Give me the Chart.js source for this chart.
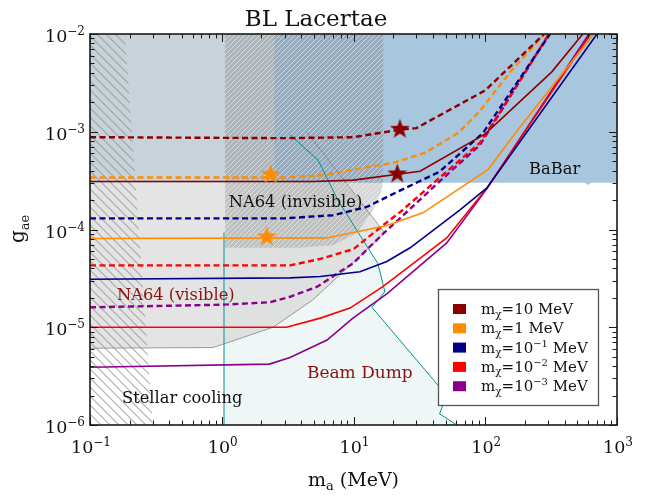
<!DOCTYPE html>
<html>
<head>
<meta charset="utf-8">
<script src="https://cdn.jsdelivr.net/npm/chart.js@4.4.1/dist/chart.umd.min.js"></script>
<style>
  html, body { margin: 0; padding: 0; background: #ffffff; }
  canvas { display: block; }
</style>
</head>
<body>
<canvas id="c" width="655" height="495"></canvas>
<script>
// ---------------- data: axion mass m_a (MeV) vs coupling g_ae ----------------
const xTickValues = [0.1, 1, 10, 100, 1000];
const xTickExponents = ['\u22121', '0', '1', '2', '3'];
const yTickValues = [1e-6, 1e-5, 1e-4, 1e-3, 1e-2];
const yTickExponents = ['\u22126', '\u22125', '\u22124', '\u22123', '\u22122'];

// dark matter masses m_chi shown in the legend: [mantissa, exponent]
const legendMasses = [['10', ''], ['1', ''], ['10', '\u22121'], ['10', '\u22122'], ['10', '\u22123']];
const seriesColors = ['#8b0000', '#ff8c00', '#00008b', '#ff0000', '#8b008b'];

// m_chi = 10 MeV
const mx10Solid  = [[0.1,3.1e-4],[5,3.1e-4],[10,3.2e-4],[32,3.95e-4],[100,9.5e-4],[320,4.1e-3],[550,1e-2]];
const mx10Dashed = [[0.1,8.8e-4],[3,8.6e-4],[10,8.8e-4],[22.5,1.05e-3],[30,1.09e-3],[100,2.65e-3],[280,1e-2]];
// m_chi = 1 MeV
const mx1Solid  = [[0.1,8.1e-5],[6.3,8.2e-5],[17.9,1.1e-4],[33.6,1.48e-4],[105,4.1e-4],[177,1.05e-3],[665,1e-2]];
const mx1Dashed = [[0.1,3.4e-4],[3,3.4e-4],[6,3.6e-4],[11,4.2e-4],[20,4.8e-4],[35,6.1e-4],[62,9.7e-4],[90,1.6e-3],[160,4.3e-3],[282,1e-2]];
// m_chi = 0.1 MeV
const mx01Solid  = [[0.1,3.1e-5],[3.3,3.2e-5],[5.6,3.3e-5],[11.2,3.7e-5],[17.9,4.7e-5],[26.9,6.5e-5],[64,1.58e-4],[103,2.66e-4],[705,1e-2]];
const mx01Dashed = [[0.1,1.3e-4],[3,1.3e-4],[7,1.4e-4],[12.6,1.7e-4],[22.5,2.5e-4],[45,3.9e-4],[96,9.7e-4],[310,1e-2]];
// m_chi = 0.01 MeV
const mx001Solid  = [[0.1,1.0e-5],[3.1,1.0e-5],[5.6,1.24e-5],[9.4,1.57e-5],[16.7,2.6e-5],[51,8.2e-5],[103,2.66e-4],[630,1e-2]];
const mx001Dashed = [[0.1,4.3e-5],[3.3,4.3e-5],[5.6,5.0e-5],[10,6.3e-5],[16.7,1.1e-4],[22.5,1.5e-4],[91,7.7e-4],[123,1.42e-3],[305,1e-2]];
// m_chi = 0.001 MeV
const mx0001Solid  = [[0.1,3.9e-6],[2.3,4.2e-6],[3.3,4.9e-6],[6.3,7.4e-6],[9.9,1.24e-5],[17.9,2.2e-5],[51,7.3e-5],[103,2.62e-4],[612,1e-2]];
const mx0001Dashed = [[0.1,1.6e-5],[1,1.7e-5],[2.3,1.8e-5],[3.3,2.05e-5],[5.3,2.6e-5],[9.9,4.5e-5],[16.7,9.0e-5],[22.5,1.3e-4],[45,3.1e-4],[91,7.3e-4],[123,1.4e-3],[305,1e-2]];

// benchmark points (stars)
const starsDarkRed = [[22.5,1.06e-3],[21.5,3.7e-4]];
const starsOrange  = [[2.35,3.65e-4],[2.2,8.4e-5]];

// excluded regions
const babarRegion = [[0.1,1e-2],[1000,1e-2],[1000,3.0e-4],[640,3.0e-4],[600,2.85e-4],[570,3.0e-4],[0.1,3.0e-4]];
const na64VisibleRegion = [[0.1,1e-2],[2.5,1e-2],[2.5,3.0e-4],[8.6,3.0e-4],[17.3,9.2e-5],[4.9,1.9e-5],[2.45,1e-5],[0.86,6.2e-6],[0.1,6.1e-6]];
const na64VisibleEdge = [[4.4,1e-3],[17.3,9.2e-5],[4.9,1.9e-5],[2.45,1e-5],[0.86,6.2e-6],[0.1,6.1e-6]];
const na64InvisibleRegion = [[1.06,1e-2],[16.8,1e-2],[16.8,3.3e-4],[16.4,2.5e-4],[14.1,1.58e-4],[10.6,9.2e-5],[7.0,6.9e-5],[3.9,6.5e-5],[1.06,6.5e-5]];
const stellarRegion = [[0.1,1e-2],[0.184,1e-2],[0.30,1e-6],[0.1,1e-6]];
const beamDumpRegion = [[1.04,1e-6],[1.04,9.3e-5],[3.3,9.3e-4],[5.4,5.1e-4],[7.6,2.0e-4],[11.8,7.8e-5],[15.3,4.5e-5],[16.7,2.8e-5],[17.3,2.3e-5],[13.8,1.6e-5],[51,2e-6],[45,1.3e-6],[61,1e-6]];
const beamDumpLeftEdge = [[1.04,1e-6],[1.04,9.3e-5]];
const beamDumpRightEdge = [[3.3,9.3e-4],[5.4,5.1e-4],[7.6,2.0e-4],[11.8,7.8e-5],[15.3,4.5e-5],[16.7,2.8e-5],[17.3,2.3e-5],[13.8,1.6e-5],[51,2e-6],[45,1.3e-6],[61,1e-6]];

// ---------------- styling helpers ----------------
const SERIF = '"DejaVu Serif", "Liberation Serif", serif';
const canvas = document.getElementById('c');
const ctx0 = canvas.getContext('2d');

function hatchPattern(size, bg, lineColor, lw, dir) {
  const t = document.createElement('canvas');
  t.width = t.height = size;
  const g = t.getContext('2d');
  if (bg) { g.fillStyle = bg; g.fillRect(0, 0, size, size); }
  g.strokeStyle = lineColor;
  g.lineWidth = lw;
  g.beginPath();
  if (dir > 0) {           // rising lines  /
    g.moveTo(0, size); g.lineTo(size, 0);
    g.moveTo(-2, 2); g.lineTo(2, -2);
    g.moveTo(size - 2, size + 2); g.lineTo(size + 2, size - 2);
  } else {                 // falling lines \
    g.moveTo(0, 0); g.lineTo(size, size);
    g.moveTo(size - 2, -2); g.lineTo(size + 2, 2);
    g.moveTo(-2, size - 2); g.lineTo(2, size + 2);
  }
  g.stroke();
  return ctx0.createPattern(t, 'repeat');
}

function starImage(color, r) {
  const s = Math.ceil(2 * r + 2);
  const t = document.createElement('canvas');
  t.width = t.height = s;
  const g = t.getContext('2d');
  g.fillStyle = color;
  g.beginPath();
  for (let i = 0; i < 10; i++) {
    const rad = i % 2 === 0 ? r : r * 0.4;
    const ang = -Math.PI / 2 + i * Math.PI / 5;
    const px = s / 2 + rad * Math.cos(ang), py = s / 2 + rad * Math.sin(ang);
    if (i === 0) g.moveTo(px, py); else g.lineTo(px, py);
  }
  g.closePath();
  g.fill();
  return t;
}

const toXY = arr => arr.map(([x, y]) => ({ x, y }));

function curve(data, color, dashed, order) {
  return {
    data: toXY(data), showLine: true, borderColor: color,
    borderWidth: dashed ? 2.4 : 1.6, borderDash: dashed ? [6, 3.5] : [],
    borderCapStyle: 'butt', pointRadius: 0, fill: false, order, clip: 0
  };
}
function region(data, bg, order) {
  return {
    data: toXY(data), showLine: true, borderWidth: 1, borderColor: 'rgba(0,0,0,0)',
    backgroundColor: bg, fill: 'shape', pointRadius: 0, order, clip: 0
  };
}
function edge(data, color, width, order) {
  return {
    data: toXY(data), showLine: true, borderWidth: width, borderColor: color,
    pointRadius: 0, fill: false, order, clip: 0
  };
}
function stars(data, color, order) {
  return {
    data: toXY(data), showLine: false, pointStyle: starImage(color, 10.5),
    pointRadius: 10, order, clip: 0
  };
}

const datasets = [
  region(beamDumpRegion, '#eef6f6', 100),
  region(babarRegion, 'rgb(168,198,222)', 90),
  region(na64VisibleRegion, 'rgba(215,215,215,0.68)', 80),
  edge(na64VisibleEdge, 'rgba(120,120,120,0.9)', 0.8, 79),
  region(na64InvisibleRegion, hatchPattern(5, 'rgba(95,95,95,0.25)', 'rgba(255,255,255,0.5)', 1, 1), 70),
  region(stellarRegion, hatchPattern(9, null, 'rgba(150,150,150,0.75)', 1.2, -1), 60),
  edge(beamDumpLeftEdge, '#009393', 1, 50),
  edge(beamDumpRightEdge, '#009393', 1, 50),
  curve(mx0001Dashed, seriesColors[4], true, 20),
  curve(mx001Dashed, seriesColors[3], true, 19),
  curve(mx01Dashed, seriesColors[2], true, 18),
  curve(mx1Dashed, seriesColors[1], true, 17),
  curve(mx10Dashed, seriesColors[0], true, 16),
  curve(mx0001Solid, seriesColors[4], false, 15),
  curve(mx001Solid, seriesColors[3], false, 14),
  curve(mx01Solid, seriesColors[2], false, 13),
  curve(mx1Solid, seriesColors[1], false, 12),
  curve(mx10Solid, seriesColors[0], false, 11),
  stars(starsOrange, seriesColors[1], 1),
  stars(starsDarkRed, seriesColors[0], 0)
];

// text placed in data coordinates
const notes = [
  { text: 'NA64 (invisible)', at: [1.13, 1.7e-4], color: '#111111', size: 16.3 },
  { text: 'NA64 (visible)', at: [0.16, 1.9e-5], color: '#8b1010', size: 16.3 },
  { text: 'Beam Dump', at: [4.43, 3.03e-6], color: '#8b1010', size: 17 },
  { text: 'Stellar cooling', at: [0.175, 1.68e-6], color: '#111111', size: 16.3 },
  { text: 'BaBar', at: [215, 3.7e-4], color: '#111111', size: 16.3 }
];

function richText(ctx, parts, x, y, align) {
  let w = 0;
  for (const p of parts) { ctx.font = p[1] + 'px ' + SERIF; w += ctx.measureText(p[0]).width; }
  let cx = align === 'right' ? x - w : (align === 'center' ? x - w / 2 : x);
  ctx.textAlign = 'left';
  for (const p of parts) {
    ctx.font = p[1] + 'px ' + SERIF;
    ctx.fillText(p[0], cx, y + (p[2] || 0));
    cx += ctx.measureText(p[0]).width;
  }
  return w;
}

const decor = {
  id: 'decor',
  afterDatasetsDraw(chart) {
    const { ctx, chartArea: a, scales } = chart;
    const X = scales.x, Y = scales.y;
    ctx.save();
    ctx.textBaseline = 'alphabetic';

    // region labels
    for (const n of notes) {
      ctx.fillStyle = n.color;
      richText(ctx, [[n.text, n.size]], X.getPixelForValue(n.at[0]), Y.getPixelForValue(n.at[1]), 'left');
    }

    // frame
    ctx.strokeStyle = '#1a1a1a';
    ctx.lineWidth = 1.6;
    ctx.strokeRect(a.left, a.top, a.right - a.left, a.bottom - a.top);

    // inward ticks on all four sides
    ctx.lineWidth = 1;
    ctx.beginPath();
    const xTicks = [], yTicks = [];
    for (let e = -1; e <= 3; e++) for (let k = 1; k < 10; k++) {
      const v = k * Math.pow(10, e);
      if (v > 1000 * 1.0001) break;
      xTicks.push([v, k === 1]);
    }
    for (let e = -6; e <= -2; e++) for (let k = 1; k < 10; k++) {
      const v = k * Math.pow(10, e);
      if (v > 1e-2 * 1.0001) break;
      yTicks.push([v, k === 1]);
    }
    for (const [v, major] of xTicks) {
      const px = Math.round(X.getPixelForValue(v)) + 0.5;
      const len = major ? 8 : 4.5;
      ctx.moveTo(px, a.bottom); ctx.lineTo(px, a.bottom - len);
      ctx.moveTo(px, a.top); ctx.lineTo(px, a.top + len);
    }
    for (const [v, major] of yTicks) {
      const py = Math.round(Y.getPixelForValue(v)) + 0.5;
      const len = major ? 8 : 4.5;
      ctx.moveTo(a.left, py); ctx.lineTo(a.left + len, py);
      ctx.moveTo(a.right, py); ctx.lineTo(a.right - len, py);
    }
    ctx.stroke();

    // tick labels
    ctx.fillStyle = '#111111';
    xTickValues.forEach((v, i) => {
      richText(ctx, [['10', 17.5], [xTickExponents[i], 12, -6.8]], X.getPixelForValue(v) + 1, a.bottom + 28, 'center');
    });
    yTickValues.forEach((v, i) => {
      richText(ctx, [['10', 17.5], [yTickExponents[i], 12, -6.8]], a.left - 5, Y.getPixelForValue(v) + 8, 'right');
    });

    // title and axis titles
    richText(ctx, [['BL Lacertae', 23]], 316, 26, 'center');
    richText(ctx, [['m', 19], ['a', 13, 4], [' (MeV)', 19]], (a.left + a.right) / 2, 486, 'center');
    ctx.save();
    ctx.translate(24, 229);
    ctx.rotate(-Math.PI / 2);
    richText(ctx, [['g', 20], ['ae', 13, 5]], 0, 0, 'center');
    ctx.restore();

    // legend
    const lx = 438.5, ly = 289.5, lw = 160, lh = 116;
    ctx.fillStyle = '#ffffff';
    ctx.fillRect(lx, ly, lw, lh);
    ctx.strokeStyle = '#555555';
    ctx.lineWidth = 1.3;
    ctx.strokeRect(lx, ly, lw, lh);
    legendMasses.forEach(([base, exp], i) => {
      const base_y = 314 + i * 19.3;
      ctx.fillStyle = seriesColors[i];
      ctx.fillRect(453, base_y - 10, 13, 10);
      ctx.fillStyle = '#111111';
      const parts = [['m', 15], ['\u03c7', 10.5, 3.5], ['=' + base, 15]];
      if (exp) parts.push([exp, 10, -6]);
      parts.push([' MeV', 15]);
      richText(ctx, parts, 481, base_y, 'left');
    });

    ctx.restore();
  }
};

new Chart(canvas, {
  type: 'scatter',
  data: { datasets },
  options: {
    responsive: false,
    animation: false,
    devicePixelRatio: 1,
    events: [],
    layout: { padding: { top: 34, right: 38, left: 0, bottom: 0 } },
    plugins: { legend: { display: false }, tooltip: { enabled: false }, title: { display: false } },
    scales: {
      x: {
        type: 'logarithmic', min: 0.1, max: 1000,
        ticks: { display: false }, grid: { display: false }, border: { display: false },
        afterFit: s => { s.height = 70; }
      },
      y: {
        type: 'logarithmic', min: 1e-6, max: 1e-2,
        ticks: { display: false }, grid: { display: false }, border: { display: false },
        afterFit: s => { s.width = 90; }
      }
    }
  },
  plugins: [decor]
});
</script>
</body>
</html>
